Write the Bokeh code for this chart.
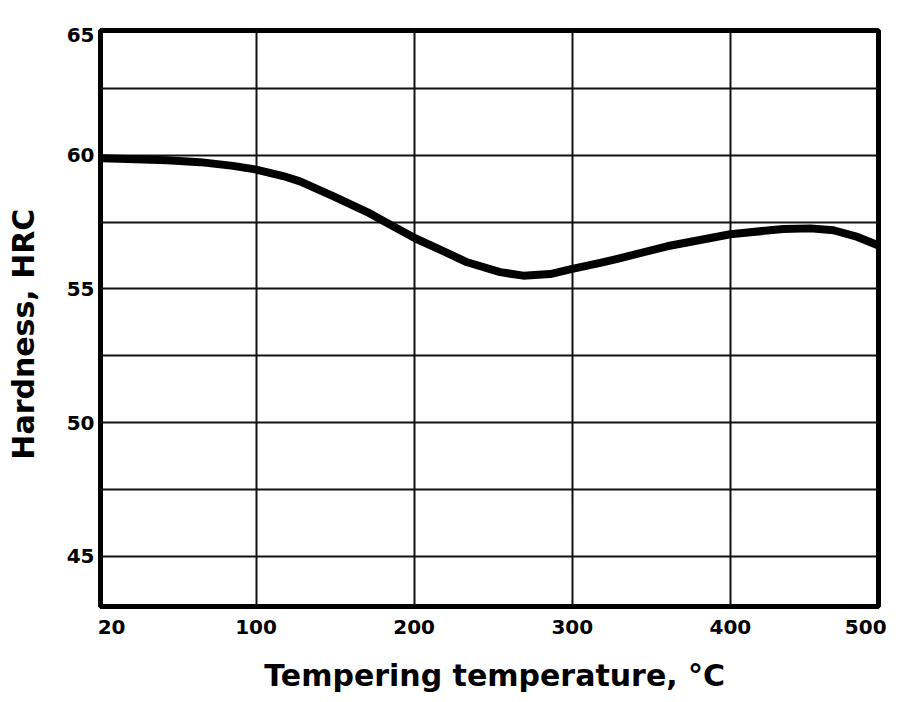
from bokeh.plotting import figure
from bokeh.models import FixedTicker, Range1d
from bokeh.embed import file_html
from bokeh.resources import INLINE

# ---- data ----
temperature = [1.6, 3.2, 43.7, 64.6, 85.4, 99.4, 117.1, 127.8, 148.7, 170.3, 182.9,
               200.6, 218.4, 233.5, 254.4, 269.0, 286.0, 300.0, 317.7, 328.5, 360.0,
               400.0, 433.5, 450.6, 465.2, 480.4, 493.7]
hardness = [59.9, 59.9, 59.82, 59.75, 59.61, 59.48, 59.23, 59.03, 58.48, 57.88, 57.47,
            56.9, 56.42, 56.0, 55.63, 55.5, 55.56, 55.75, 55.98, 56.13, 56.6,
            57.05, 57.25, 57.27, 57.2, 56.95, 56.63]

NB = "\u00a0"
x_ticks = [2, 100, 200, 300, 400, 493]
x_tick_labels = {2: NB * 3 + "20", 493: "500" + NB * 2}
x_grid = [100, 200, 300, 400]
y_ticks = [45, 50, 55, 60, 64.5]
y_tick_labels = {64.5: "65"}
y_grid = [45, 47.5, 50, 52.5, 55, 57.5, 60, 62.5]
x_start, x_end = 1.6, 493.7
y_start, y_end = 43.11, 64.68

FONT = "DejaVu Sans"

p = figure(width=900, height=702, output_backend="svg", toolbar_location=None,
           x_range=Range1d(x_start, x_end), y_range=Range1d(y_start, y_end),
           min_border_left=100, min_border_right=22, min_border_top=30,
           min_border_bottom=96)

p.background_fill_color = "white"
p.border_fill_color = "white"
p.outline_line_color = "black"
p.outline_line_width = 5

# grid
p.xgrid.ticker = FixedTicker(ticks=x_grid)
p.ygrid.ticker = FixedTicker(ticks=y_grid)
for g in (p.xgrid, p.ygrid):
    g.grid_line_color = "#111111"
    g.grid_line_width = 2
    g.grid_line_alpha = 1.0

# axes
p.xaxis.ticker = FixedTicker(ticks=x_ticks)
p.yaxis.ticker = FixedTicker(ticks=y_ticks)
p.xaxis.major_label_overrides = x_tick_labels
p.yaxis.major_label_overrides = y_tick_labels
for ax in (p.xaxis, p.yaxis):
    ax.axis_line_color = None
    ax.major_tick_line_color = None
    ax.minor_tick_line_color = None
    ax.major_label_text_font = FONT
    ax.major_label_text_font_style = "bold"
    ax.major_label_text_font_size = "20px"
    ax.major_label_text_color = "black"
    ax.axis_label_text_font = FONT
    ax.axis_label_text_font_style = "bold"
    ax.axis_label_text_font_size = "30px"
    ax.axis_label_text_color = "black"

p.xaxis.axis_label = NB + "Tempering temperature, °C"
p.yaxis.axis_label = "Hardness, HRC" + NB * 3
p.xaxis.major_label_standoff = 2
p.xaxis.axis_label_standoff = 16
p.yaxis.major_label_standoff = 0
p.yaxis.axis_label_standoff = 23

# curve
p.line(temperature, hardness, line_color="black", line_width=8,
       line_join="round", line_cap="round")

open("out.html", "w").write(file_html(p, INLINE))
